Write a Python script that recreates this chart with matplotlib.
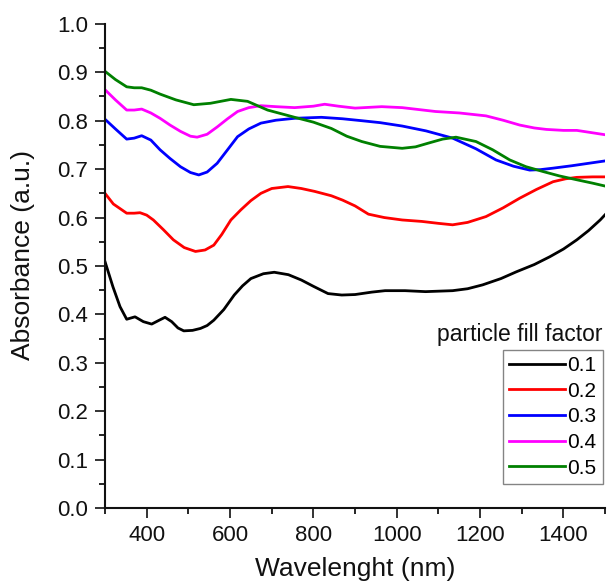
import matplotlib
matplotlib.use("Agg")
import matplotlib.pyplot as plt
from matplotlib.ticker import MultipleLocator

plt.rcParams['font.family'] = ['Liberation Sans', 'DejaVu Sans']

# values
x_01 = [300, 319, 336, 352, 372, 392, 412, 430, 444, 460, 475, 489, 510, 529, 545, 561, 585, 610, 630, 650,
        680, 706, 740, 771, 800, 835, 868, 900, 940, 972, 1020, 1069, 1134, 1170, 1206, 1250, 1287, 1330,
        1367, 1400, 1432, 1460, 1488, 1500]
y_01 = [0.509, 0.457, 0.416, 0.390, 0.395, 0.385, 0.380, 0.388, 0.394, 0.385, 0.372, 0.366, 0.367, 0.371,
        0.377, 0.388, 0.410, 0.440, 0.459, 0.474, 0.484, 0.487, 0.482, 0.471, 0.458, 0.443, 0.440, 0.441,
        0.446, 0.449, 0.449, 0.447, 0.449, 0.453, 0.461, 0.474, 0.488, 0.503, 0.519, 0.535, 0.554, 0.573,
        0.595, 0.606]

x_02 = [300, 320, 352, 370, 384, 400, 416, 440, 464, 490, 517, 540, 561, 580, 602, 626, 650, 674, 700, 739,
        771, 803, 843, 870, 900, 932, 970, 1013, 1060, 1100, 1134, 1170, 1214, 1255, 1295, 1335, 1375, 1405,
        1432, 1470, 1500]
y_02 = [0.650, 0.628, 0.609, 0.609, 0.610, 0.605, 0.595, 0.575, 0.554, 0.538, 0.530, 0.533, 0.543, 0.565,
        0.595, 0.616, 0.635, 0.650, 0.660, 0.664, 0.660, 0.654, 0.645, 0.636, 0.624, 0.607, 0.600, 0.595,
        0.592, 0.588, 0.585, 0.590, 0.602, 0.620, 0.640, 0.658, 0.674, 0.680, 0.683, 0.684, 0.684]

x_03 = [300, 325, 352, 370, 388, 410, 432, 456, 481, 505, 525, 545, 569, 594, 618, 645, 674, 710, 755, 819,
        870, 916, 960, 1013, 1070, 1134, 1190, 1238, 1280, 1319, 1345, 1375, 1420, 1460, 1500]
y_03 = [0.803, 0.783, 0.762, 0.764, 0.769, 0.760, 0.740, 0.722, 0.705, 0.693, 0.688, 0.694, 0.712, 0.740,
        0.767, 0.783, 0.795, 0.801, 0.805, 0.807, 0.804, 0.800, 0.796, 0.789, 0.779, 0.764, 0.742, 0.719,
        0.706, 0.698, 0.699, 0.702, 0.707, 0.712, 0.717]

x_04 = [300, 325, 352, 370, 388, 410, 432, 456, 481, 505, 521, 545, 569, 594, 618, 645, 674, 710, 755, 800,
        827, 860, 900, 964, 1013, 1093, 1150, 1214, 1255, 1295, 1330, 1359, 1400, 1432, 1470, 1500]
y_04 = [0.864, 0.843, 0.822, 0.822, 0.824, 0.816, 0.805, 0.791, 0.778, 0.768, 0.766, 0.772, 0.787, 0.804,
        0.819, 0.827, 0.831, 0.829, 0.827, 0.830, 0.834, 0.830, 0.826, 0.829, 0.827, 0.819, 0.816, 0.810,
        0.801, 0.791, 0.785, 0.782, 0.780, 0.780, 0.775, 0.771]

x_05 = [300, 325, 352, 370, 388, 410, 432, 470, 513, 553, 602, 642, 690, 755, 800, 843, 880, 916, 960, 1013,
        1045, 1077, 1110, 1142, 1190, 1230, 1271, 1310, 1351, 1390, 1432, 1470, 1500]
y_05 = [0.902, 0.885, 0.870, 0.868, 0.868, 0.863, 0.855, 0.843, 0.833, 0.836, 0.844, 0.840, 0.822, 0.807,
        0.797, 0.784, 0.768, 0.757, 0.747, 0.743, 0.746, 0.754, 0.762, 0.766, 0.757, 0.740, 0.719, 0.705,
        0.695, 0.686, 0.678, 0.671, 0.665]

labels = ["0.1", "0.2", "0.3", "0.4", "0.5"]
colors = ["#000000", "#ff0000", "#0000ff", "#ff00ff", "#008000"]
series = [(x_01, y_01), (x_02, y_02), (x_03, y_03), (x_04, y_04), (x_05, y_05)]

fig = plt.figure(figsize=(6.07, 5.82), dpi=100)
ax = fig.add_axes([0.173, 0.127, 0.824, 0.832])

for (xs, ys), lab, col in zip(series, labels, colors):
    ax.plot(xs, ys, color=col, lw=2.0, label=lab, solid_joinstyle="round")

ax.set_xlim(300, 1500)
ax.set_ylim(0.0, 1.0)
ax.xaxis.set_major_locator(MultipleLocator(200))
ax.xaxis.set_minor_locator(MultipleLocator(100))
ax.yaxis.set_major_locator(MultipleLocator(0.1))
ax.yaxis.set_minor_locator(MultipleLocator(0.05))
ax.yaxis.set_major_formatter(plt.FormatStrFormatter('%.1f'))

for s in ["top", "right"]:
    ax.spines[s].set_visible(False)
for s in ["left", "bottom"]:
    ax.spines[s].set_linewidth(1.5)
    ax.spines[s].set_color("#111111")

ax.tick_params(which="major", direction="out", length=7, width=1.2, labelsize=16, pad=5, colors="#111111")
ax.tick_params(which="minor", direction="out", length=4, width=1.2)

ax.set_xlabel("Wavelenght (nm)", fontsize=19, color="#111111")
ax.set_ylabel("Absorbance (a.u.)", fontsize=19, color="#111111")
ax.xaxis.set_label_coords(0.5, -0.1)
ax.yaxis.set_label_coords(-0.14, 0.523)

leg = ax.legend(loc="lower right", bbox_to_anchor=(0.995, 0.05), fontsize=15, frameon=True, fancybox=False,
                handlelength=2.7, handletextpad=0.1, labelspacing=0.32, borderpad=0.3, borderaxespad=0)
leg.get_frame().set_edgecolor("#666666")
leg.get_frame().set_linewidth(1.0)
ax.text(0.995, 0.335, "particle fill factor", transform=ax.transAxes, ha="right", va="bottom",
        fontsize=16.5, color="#111111")

fig.savefig("out.png", dpi=100)
